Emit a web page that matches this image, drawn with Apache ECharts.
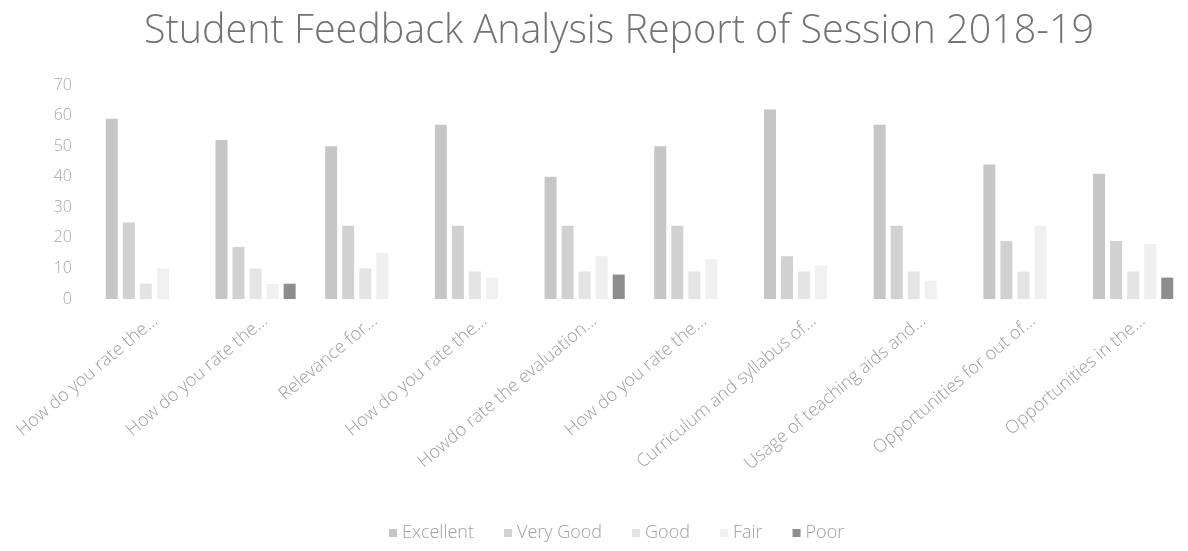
<!DOCTYPE html>
<html>
<head>
<meta charset="utf-8">
<script src="https://cdn.jsdelivr.net/npm/echarts@6/dist/echarts.min.js"></script>
<style>html,body{margin:0;padding:0;background:#fff}#c{width:1188px;height:551px}</style>
</head>
<body>
<div id="c"></div>
<script>
const categories = [
  "How do you rate the...",
  "How do you rate the...",
  "Relevance for...",
  "How do you rate the...",
  "Howdo rate the evaluation...",
  "How do you rate the...",
  "Curriculum and syllabus of...",
  "Usage of teaching aids and...",
  "Opportunities for out of...",
  "Opportunities in the..."
];
const seriesNames = ["Excellent", "Very Good", "Good", "Fair", "Poor"];
const excellent = [59, 52, 50, 57, 40, 50, 62, 57, 44, 41];
const veryGood  = [25, 17, 24, 24, 24, 24, 14, 24, 19, 19];
const good      = [5, 10, 10, 9, 9, 9, 9, 9, 9, 9];
const fair      = [10, 5, 15, 7, 14, 13, 11, 6, 24, 18];
const poor      = [0, 5, 0, 0, 8, 0, 0, 0, 0, 7];
const yTicks = [0, 10, 20, 30, 40, 50, 60, 70];

const colors = ["#c6c6c6", "#d1d1d1", "#e4e4e4", "#f0f0f0", "#8d8d8d"];
const values = [excellent, veryGood, good, fair, poor];
const FONT = "'Open Sans', 'Noto Sans', sans-serif";

const chart = echarts.init(document.getElementById('c'));
chart.setOption({
  animation: false,
  backgroundColor: '#ffffff',
  title: {
    text: 'Student Feedback Analysis Report of Session 2018-19',
    left: 139,
    top: 7,
    textStyle: { fontFamily: FONT, fontSize: 39.5, fontWeight: 300, color: '#737373' }
  },
  legend: {
    data: seriesNames,
    bottom: 4,
    left: 384,
    itemWidth: 8,
    itemHeight: 8,
    itemGap: 30,
    icon: 'rect',
    textStyle: { fontFamily: FONT, fontSize: 18, fontWeight: 300, color: '#a0a0a0' }
  },
  grid: { left: 91, width: 1116, top: 85, bottom: 252, containLabel: false },
  xAxis: {
    type: 'category',
    data: categories,
    axisLine: { show: false },
    axisTick: { show: false },
    axisLabel: {
      rotate: 40,
      interval: 0,
      margin: 8,
      verticalAlign: 'top',
      padding: [6, 0, 0, 0],
      fontFamily: FONT,
      fontSize: 18,
      fontWeight: 300,
      color: '#a0a0a0'
    }
  },
  yAxis: {
    type: 'value',
    min: 0,
    max: 70,
    interval: 10,
    splitLine: { show: false },
    axisLine: { show: false },
    axisTick: { show: false },
    axisLabel: {
      margin: 19,
      fontFamily: FONT,
      fontSize: 16,
      fontWeight: 300,
      color: '#a8a8a8',
      formatter: v => yTicks.includes(v) ? String(v) : ''
    }
  },
  series: seriesNames.map((name, i) => ({
    name,
    type: 'bar',
    data: values[i],
    barWidth: 12,
    barGap: '42%',
    itemStyle: { color: colors[i] }
  }))
});
</script>
</body>
</html>
